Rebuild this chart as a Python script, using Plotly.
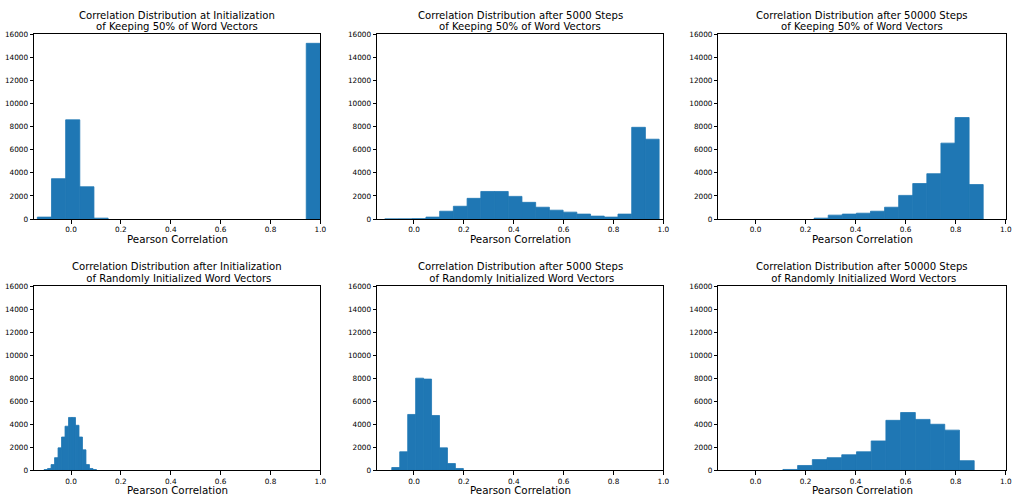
import plotly.graph_objects as go

# ---------------- data ----------------
titles = [
    ["Correlation Distribution at Initialization", "of Keeping 50% of Word Vectors"],
    ["Correlation Distribution after 5000 Steps", "of Keeping 50% of Word Vectors"],
    ["Correlation Distribution after 50000 Steps", "of Keeping 50% of Word Vectors"],
    ["Correlation Distribution after Initialization", " of Randomly Initialized Word Vectors"],
    ["Correlation Distribution after 5000 Steps", " of Randomly Initialized Word Vectors"],
    ["Correlation Distribution after 50000 Steps", " of Randomly Initialized Word Vectors"],
]
x_label = "Pearson Correlation"

# histogram bins: first edge, bin width, 20 counts each
bin_start = [-0.135, -0.117, -0.216, -0.108, -0.089, -0.302]
bin_width = [0.05675, 0.0550, 0.0563, 0.0140, 0.0319, 0.0588]

counts_keep_init = [170, 3500, 8600, 2800, 80, 0, 0, 0, 0, 0,
                    0, 0, 0, 0, 0, 0, 0, 0, 0, 15230]
counts_keep_5000 = [10, 15, 30, 170, 680, 1110, 1795, 2390, 2390, 1965,
                    1450, 1025, 770, 600, 430, 255, 170, 430, 7950, 6920]
counts_keep_50000 = [0, 0, 0, 0, 0, 0, 0, 0, 80, 340,
                     430, 510, 680, 1025, 2050, 3080, 3930, 6580, 8800, 2990]
counts_rand_init = [80, 170, 510, 1110, 1960, 2900, 3840, 4600, 4600, 3920,
                    2900, 1790, 510, 170, 80, 0, 0, 0, 0, 0]
counts_rand_5000 = [255, 1620, 4860, 8010, 7930, 4770, 1960, 600, 170, 0,
                    0, 0, 0, 0, 0, 0, 0, 0, 0, 0]
counts_rand_50000 = [0, 0, 0, 0, 0, 0, 0, 85, 430, 940,
                     1110, 1360, 1620, 2560, 4350, 5030, 4430, 4010, 3500, 850]

all_counts = [counts_keep_init, counts_keep_5000, counts_keep_50000,
              counts_rand_init, counts_rand_5000, counts_rand_50000]

x_ticks = [0.0, 0.2, 0.4, 0.6, 0.8, 1.0]
y_ticks = [0, 2000, 4000, 6000, 8000, 10000, 12000, 14000, 16000]
x_range = [-0.148, 1.0]
y_range = [0, 16000]

# ---------------- layout geometry (pixels) ----------------
W, H = 1016, 500
col_px = [(34.3, 322.3), (379.3, 667.3), (722.7, 1011.7)]
row_px = [(31.0, 219.0), (287.3, 475.0)]          # (top, bottom)
title_line_px = [(11.7, 23.3), (267.7, 279.2)]
xlabel_center_px = [239.3, 495.3]

BLUE = "#1f77b4"
FONT = "DejaVu Sans"

fig = go.Figure()
layout = dict(
    width=W, height=H,
    margin=dict(l=0, r=0, t=0, b=0),
    paper_bgcolor="white", plot_bgcolor="white",
    showlegend=False,
    font=dict(family=FONT, color="black"),
    annotations=[],
)

for i in range(6):
    r, c = divmod(i, 3)
    n = i + 1
    xa = "x" if n == 1 else f"x{n}"
    ya = "y" if n == 1 else f"y{n}"
    w = bin_width[i]
    cnts = all_counts[i]
    centers = [bin_start[i] + (k + 0.5) * w for k in range(len(cnts))]
    fig.add_trace(go.Bar(
        x=centers, y=cnts, width=[w] * len(cnts),
        marker=dict(color=BLUE,
                    line=dict(width=[0.8 if v > 0 else 0 for v in cnts], color=BLUE)),
        xaxis=xa, yaxis=ya, hoverinfo="x+y",
    ))
    x0, x1 = col_px[c]
    top, bot = row_px[r]
    common = dict(
        showline=True, mirror=True, linecolor="black", linewidth=1,
        ticks="outside", ticklen=3.5, tickwidth=0.8, tickcolor="black",
        showgrid=False, zeroline=False,
        tickfont=dict(family=FONT, size=7.3, color="black"),
    )
    layout["xaxis" if n == 1 else f"xaxis{n}"] = dict(
        domain=[x0 / W, x1 / W], anchor=ya, range=x_range,
        tickvals=x_ticks, tickformat=".1f", **common)
    layout["yaxis" if n == 1 else f"yaxis{n}"] = dict(
        domain=[(H - bot) / H, (H - top) / H], anchor=xa, range=y_range,
        tickvals=y_ticks, tickformat="d", **common)
    for line_text, ypx in zip(titles[i], title_line_px[r]):
        layout["annotations"].append(dict(
            text=line_text, xref=f"{xa} domain", yref="paper",
            x=0.5, y=(H - ypx) / H, xanchor="center", yanchor="middle",
            showarrow=False, borderpad=0,
            font=dict(family=FONT, size=10.1, color="black"),
        ))
    layout["annotations"].append(dict(
        text=x_label, xref=f"{xa} domain", yref="paper",
        x=0.5, y=(H - xlabel_center_px[r]) / H, xanchor="center", yanchor="middle",
        showarrow=False, borderpad=0,
        font=dict(family=FONT, size=10.3, color="black"),
    ))

fig.update_layout(**layout)
fig.write_html("out.html")
